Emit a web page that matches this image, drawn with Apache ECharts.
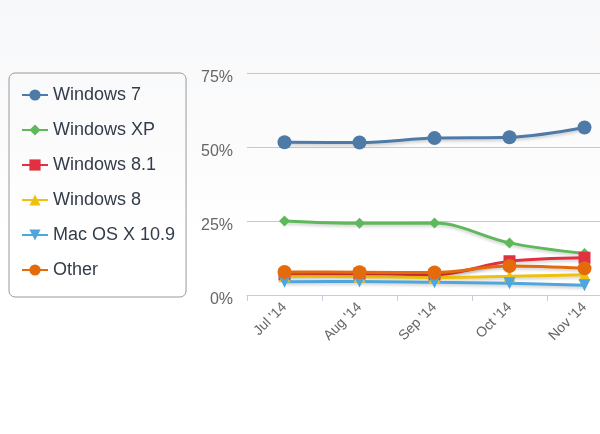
<!DOCTYPE html>
<html>
<head>
<meta charset="utf-8">
<script src="https://cdn.jsdelivr.net/npm/echarts@6/dist/echarts.min.js"></script>
<style>
html,body{margin:0;padding:0;overflow:hidden;width:600px;height:434px;}
body{background:linear-gradient(to bottom,#f7f8f9 0%,#fbfbfc 30%,#ffffff 55%,#ffffff 100%);}
#c{width:622px;height:434px;}
</style>
</head>
<body>
<div id="c"></div>
<script>
var categories = ["Jul '14", "Aug '14", "Sep '14", "Oct '14", "Nov '14"];
var win7 = [51.6, 51.5, 53.0, 53.3, 56.6];
var winXP = [25.0, 24.2, 24.3, 17.6, 14.0];
var win81 = [6.9, 7.2, 6.9, 11.4, 12.6];
var win8 = [6.3, 6.2, 5.9, 6.3, 6.8];
var mac109 = [4.5, 4.6, 4.3, 4.0, 3.3];
var other = [7.8, 7.7, 7.6, 9.8, 9.0];
var yTicks = [0, 25, 50, 75];

function mk(name, data, color, symbol, size, rot) {
  return {
    name: name, type: 'line', data: data, smooth: 0.35,
    symbol: symbol, symbolSize: size, symbolRotate: rot || 0,
    lineStyle: {width: 3, color: color, shadowColor: 'rgba(0,0,0,0.18)', shadowBlur: 3, shadowOffsetY: 2},
    itemStyle: {color: color},
    emphasis: {disabled: true}
  };
}

var chart = echarts.init(document.getElementById('c'));
chart.setOption({
  backgroundColor: 'transparent',
  animation: false,
  textStyle: {fontFamily: 'Liberation Sans, Arial, sans-serif'},
  legend: {
    orient: 'vertical', left: 9, top: 73,
    padding: [13, 11, 18, 12],
    itemGap: 17, itemWidth: 26, itemHeight: 14,
    borderColor: '#999', borderWidth: 1, borderRadius: 6,
    textStyle: {fontSize: 18, color: '#333c4a', fontFamily: 'Liberation Sans, Arial, sans-serif'},
    data: ['Windows 7', 'Windows XP', 'Windows 8.1', 'Windows 8', 'Mac OS X 10.9', 'Other']
  },
  grid: {left: 247, right: 0, top: 73, bottom: 139, containLabel: false},
  xAxis: {
    type: 'category', data: categories, boundaryGap: true,
    axisLine: {lineStyle: {color: '#c0d0e0', width: 1}},
    axisTick: {show: true, length: 6, lineStyle: {color: '#c0d0e0'}},
    axisLabel: {rotate: 45, color: '#666', fontSize: 14, margin: 10, interval: 0}
  },
  yAxis: {
    type: 'value', min: yTicks[0], max: yTicks[yTicks.length - 1], interval: 25,
    axisLine: {show: false}, axisTick: {show: false},
    splitLine: {lineStyle: {color: '#c8c8c8', width: 1}},
    axisLabel: {formatter: '{value}%', color: '#666', fontSize: 16, margin: 14, verticalAlign: 'top', lineHeight: 10}
  },
  series: [
    mk('Windows 7', win7, '#4e7aa7', 'circle', 14),
    mk('Windows XP', winXP, '#60b85c', 'diamond', 11),
    mk('Windows 8.1', win81, '#e1303f', 'rect', 12),
    mk('Windows 8', win8, '#efc10e', 'triangle', 12),
    mk('Mac OS X 10.9', mac109, '#4ea6dc', 'triangle', 12, 180),
    mk('Other', other, '#e46b0b', 'circle', 14)
  ]
});
</script>
</body>
</html>
